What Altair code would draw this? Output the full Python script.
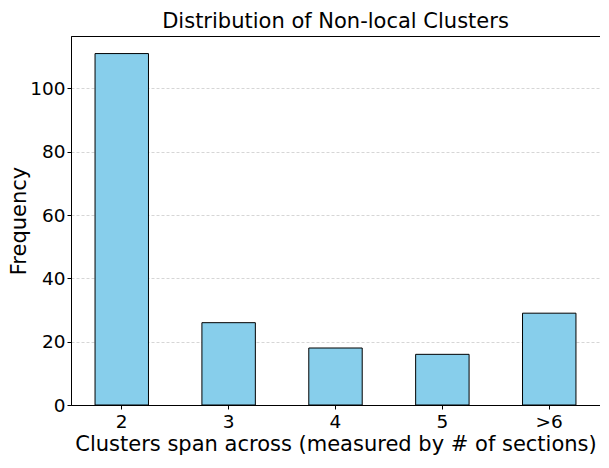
import altair as alt
import pandas as pd

categories = ["2", "3", "4", "5", ">6"]
frequencies = [111, 26, 18, 16, 29]

df = pd.DataFrame({"span": categories, "freq": frequencies})

FONT = "DejaVu Sans"

bars = alt.Chart(df).mark_bar(
    color="#87CEEB", stroke="black", strokeWidth=1
).encode(
    x=alt.X("span:N", sort=categories,
            scale=alt.Scale(paddingInner=0.5, paddingOuter=0.225),
            axis=alt.Axis(title="Clusters span across (measured by # of sections)",
                          labelAngle=0, grid=False, titlePadding=3)),
    y=alt.Y("freq:Q", scale=alt.Scale(domain=[0, 116.55], nice=False, zero=True),
            axis=alt.Axis(title="Frequency", values=[0, 20, 40, 60, 80, 100],
                          grid=True, gridDash=[3, 2], gridColor="#cccccc",
                          gridWidth=0.8, titlePadding=0, labelPadding=2)),
)

chart = bars.properties(
    width=529, height=369,
    title=alt.TitleParams("Distribution of Non-local Clusters", font=FONT,
                          fontSize=21, fontWeight="normal", color="black", offset=4),
    padding={"left": 0, "top": 3, "right": 0, "bottom": 0},
).configure_view(
    stroke="black", strokeWidth=1
).configure_axis(
    labelFont=FONT, titleFont=FONT, labelFontSize=18.5, titleFontSize=21,
    titleFontWeight="normal", labelColor="black", titleColor="black",
    domainColor="black", tickColor="black", tickSize=4, labelPadding=3,
    domain=True,
)

chart.save("out.html", embed_options={"renderer": "svg", "actions": False})
